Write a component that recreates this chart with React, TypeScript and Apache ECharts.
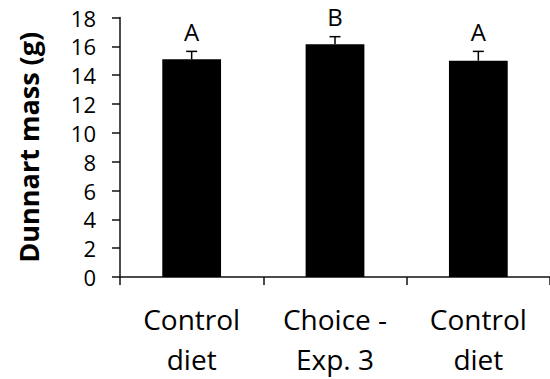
import React, { useEffect, useRef } from "react";
import * as echarts from "echarts";

const categories = ["Control\ndiet", "Choice -\nExp. 3", "Control\ndiet"];
const means = [15.1, 16.15, 15.0];
const errors = [0.55, 0.52, 0.65];
const letters = ["A", "B", "A"];
const yTicks = { min: 0, max: 18, interval: 2 };

const FONT = "Open Sans";

export default function App() {
  const ref = useRef<HTMLDivElement>(null);
  useEffect(() => {
    if (!ref.current) return;
    const chart = echarts.init(ref.current, undefined, { renderer: "svg" });
    chart.setOption({
      animation: false,
      grid: { left: 120, top: 17.5, bottom: 99, width: 432 },
      xAxis: {
        type: "category",
        data: categories,
        axisLine: { lineStyle: { color: "#111", width: 1.5 } },
        axisTick: { show: true, length: 8, lineStyle: { color: "#111", width: 1.5 } },
        axisLabel: {
          color: "#000",
          fontFamily: FONT,
          fontSize: 28,
          lineHeight: 40,
          margin: 22,
        },
      },
      yAxis: {
        type: "value",
        min: yTicks.min,
        max: yTicks.max,
        interval: yTicks.interval,
        name: "Dunnart mass (g)",
        nameLocation: "middle",
        nameGap: 78,
        nameTextStyle: {
          color: "#000",
          fontFamily: FONT,
          fontWeight: "bold",
          fontSize: 27,
        },
        axisLine: { show: true, lineStyle: { color: "#111", width: 1.5 } },
        axisTick: { show: true, length: 8, lineStyle: { color: "#111", width: 1.5 } },
        splitLine: { show: false },
        axisLabel: { color: "#000", fontFamily: FONT, fontSize: 22, margin: 24 },
      },
      series: [
        {
          type: "bar",
          data: means,
          barWidth: "41%",
          itemStyle: { color: "#000" },
        },
        {
          type: "custom",
          data: means.map((m, i) => [i, m, errors[i]]),
          renderItem: (params: any, api: any) => {
            const i = api.value(0);
            const m = api.value(1);
            const e = api.value(2);
            const p0 = api.coord([i, m]);
            const p1 = api.coord([i, m + e]);
            const cap = 5.5;
            return {
              type: "group",
              children: [
                {
                  type: "line",
                  shape: { x1: p0[0], y1: p0[1], x2: p1[0], y2: p1[1] },
                  style: { stroke: "#000", lineWidth: 1.5 },
                },
                {
                  type: "line",
                  shape: { x1: p1[0] - cap, y1: p1[1], x2: p1[0] + cap, y2: p1[1] },
                  style: { stroke: "#000", lineWidth: 1.5 },
                },
                {
                  type: "text",
                  x: p1[0],
                  y: p1[1] - 8,
                  style: {
                    text: letters[params.dataIndex],
                    fill: "#000",
                    fontFamily: FONT,
                    fontSize: 24,
                    align: "center",
                    verticalAlign: "bottom",
                  },
                },
              ],
            };
          },
          z: 10,
        },
      ],
    });
    return () => chart.dispose();
  }, []);
  return <div ref={ref} style={{ width: 550, height: 379, position: "absolute", left: 0, top: 0 }} />;
}
